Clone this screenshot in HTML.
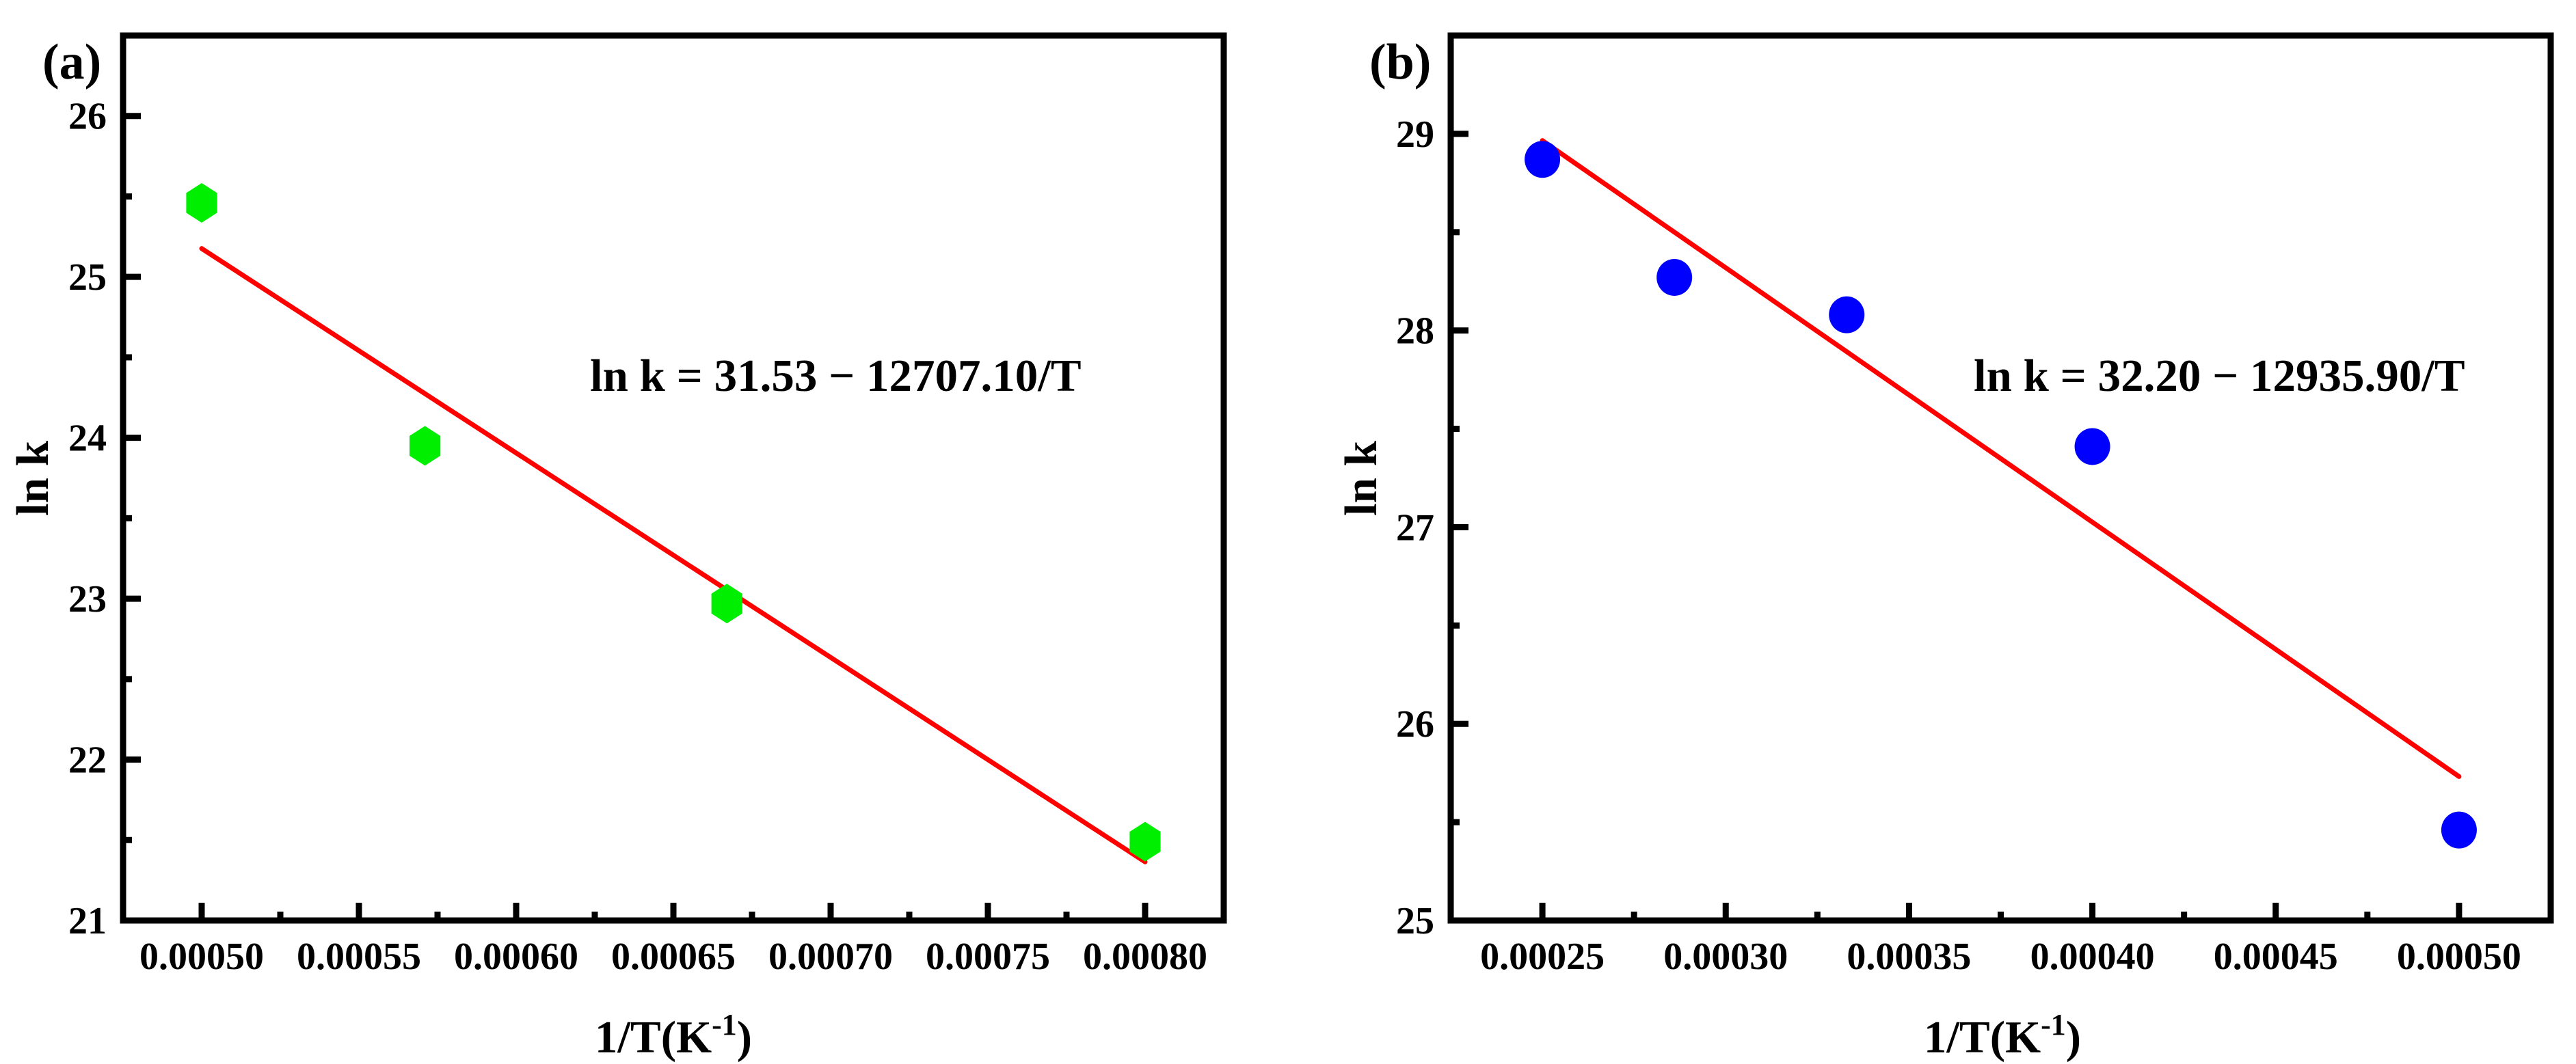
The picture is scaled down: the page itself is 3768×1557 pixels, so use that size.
<!DOCTYPE html>
<html><head><meta charset="utf-8"><style>
html,body{margin:0;padding:0;background:#fff;}
svg{display:block;font-family:"Liberation Serif",serif;font-weight:bold;}
</style></head><body>
<svg id="chart" width="3768" height="1557" viewBox="0 0 3768 1557" xmlns="http://www.w3.org/2000/svg"></svg>
<script>
const aX = [0.000500, 0.000571, 0.000667, 0.000800];
const aY = [25.46, 23.95, 22.97, 21.49];
const aFit = [31.53, 12707.10];
const aXTicks = ["0.00050","0.00055","0.00060","0.00065","0.00070","0.00075","0.00080"];
const aYTicks = ["21","22","23","24","25","26"];
const bX = [0.000250, 0.000286, 0.000333, 0.000400, 0.000500];
const bY = [28.87, 28.27, 28.08, 27.41, 25.46];
const bFit = [32.20, 12935.90];
const bXTicks = ["0.00025","0.00030","0.00035","0.00040","0.00045","0.00050"];
const bYTicks = ["25","26","27","28","29"];

const NS = "http://www.w3.org/2000/svg";
const svg = document.getElementById('chart');
function mk(tag, attrs, parent, txt){
  const e = document.createElementNS(NS, tag);
  for (const k in attrs) e.setAttribute(k, attrs[k]);
  if (txt !== undefined) e.textContent = txt;
  (parent||svg).appendChild(e);
  return e;
}
function panel(o){
  const g = mk('g', {});
  
  
  const sx = v => o.L + (v - o.x0) / (o.x1 - o.x0) * (o.R - o.L);
  const sy = v => o.B - (v - o.y0) / (o.y1 - o.y0) * (o.B - o.T);
  // ticks
  const xt = o.xTicks.map(Number);
  const step = xt[1] - xt[0];
  for (let i = 0; i < xt.length; i++){
    const x = sx(xt[i]);
    const t = mk('line', {x1:x, x2:x, y1:o.B, y2:o.B-26, stroke:'#000','stroke-width':9}, g);
    
    
    const lb = mk('text', {x:x, y:1418, 'font-size':56, 'text-anchor':'middle'}, g, o.xTicks[i]);
    
    
  }
  for (let v = xt[0] - step/2; v < o.x1; v += step){
    if (v <= o.x0) continue;
    const x = sx(v);
    const t = mk('line', {x1:x, x2:x, y1:o.B, y2:o.B-13, stroke:'#000','stroke-width':9}, g);
    
    
  }
  const yt = o.yTicks.map(Number);
  for (let i = 0; i < yt.length; i++){
    const y = sy(yt[i]);
    const t = mk('line', {x1:o.L, x2:o.L+26, y1:y, y2:y, stroke:'#000','stroke-width':9}, g);
    
    
    const lb = mk('text', {x:o.L-24, y:y+19, 'font-size':56, 'text-anchor':'end'}, g, o.yTicks[i]);
    
    
    if (i < yt.length) {
      const m = yt[i] + 0.5;
      if (m < o.y1) {
        const ym = sy(m);
        const t2 = mk('line', {x1:o.L, x2:o.L+13, y1:ym, y2:ym, stroke:'#000','stroke-width':9}, g);
        
        
      }
    }
  }
  // fit line
  const xa = o.px[0], xb = o.px[o.px.length-1];
  const fl = mk('line', {x1:sx(xa), y1:sy(o.fit[0]-o.fit[1]*xa), x2:sx(xb), y2:sy(o.fit[0]-o.fit[1]*xb), stroke:'#ff0000','stroke-width':7,'stroke-linecap':'round'}, g);
  
  
  // points
  for (let i = 0; i < o.px.length; i++){
    const cx = sx(o.px[i]), cy = sy(o.py[i]);
    let p;
    if (o.marker === 'hex'){
      const r = 29, pts = [];
      for (let k = 0; k < 6; k++){ const a = Math.PI/2 + k*Math.PI/3; pts.push((cx + r*0.9*Math.cos(a)).toFixed(1)+','+(cy - r*Math.sin(a)).toFixed(1)); }
      p = mk('polygon', {points:pts.join(' '), fill:'#00ee00'}, g);
    } else {
      p = mk('ellipse', {cx:cx, cy:cy, rx:26, ry:27, fill:'#0000ff'}, g);
    }
    
    
  }
  // frame
  const fr = mk('rect', {x:o.L, y:o.T, width:o.R-o.L, height:o.B-o.T, fill:'none', stroke:'#000','stroke-width':9}, g);
  
  
  const eq = mk('text', {x:o.eqX, y:572, 'font-size':67}, g, o.eq);
  
  
  const pl = mk('text', {x:o.labX, y:115, 'font-size':74}, g, o.lab);
  
  
  const xtl = mk('text', {x:o.xtX, y:1540, 'font-size':67, 'text-anchor':'middle'}, g);
  
  
  mk('tspan', {}, xtl, '1/T(K');
  mk('tspan', {dy:-26, 'font-size':44}, xtl, '-1');
  mk('tspan', {dy:26}, xtl, ')');
  const ytl = mk('text', {x:0, y:0, 'font-size':67, 'text-anchor':'middle', transform:'translate('+o.ytX+',700) rotate(-90)'}, g, 'ln k');
  
  
}
panel({name:'panel-a', L:180, R:1790, T:52, B:1347, x0:0.000475, x1:0.000825, y0:21, y1:26.5,
  xTicks:aXTicks, yTicks:aYTicks, px:aX, py:aY, fit:aFit, marker:'hex',
  eq:'ln k = 31.53 \u2212 12707.10/T', eqX:863, lab:'(a)', labX:62, xtX:985, ytX:70});
panel({name:'panel-b', L:2122, R:3731, T:52, B:1347, x0:0.000225, x1:0.000525, y0:25, y1:29.5,
  xTicks:bXTicks, yTicks:bYTicks, px:bX, py:bY, fit:bFit, marker:'circle',
  eq:'ln k = 32.20 \u2212 12935.90/T', eqX:2887, lab:'(b)', labX:2003, xtX:2929, ytX:2013});
</script>
</body></html>
